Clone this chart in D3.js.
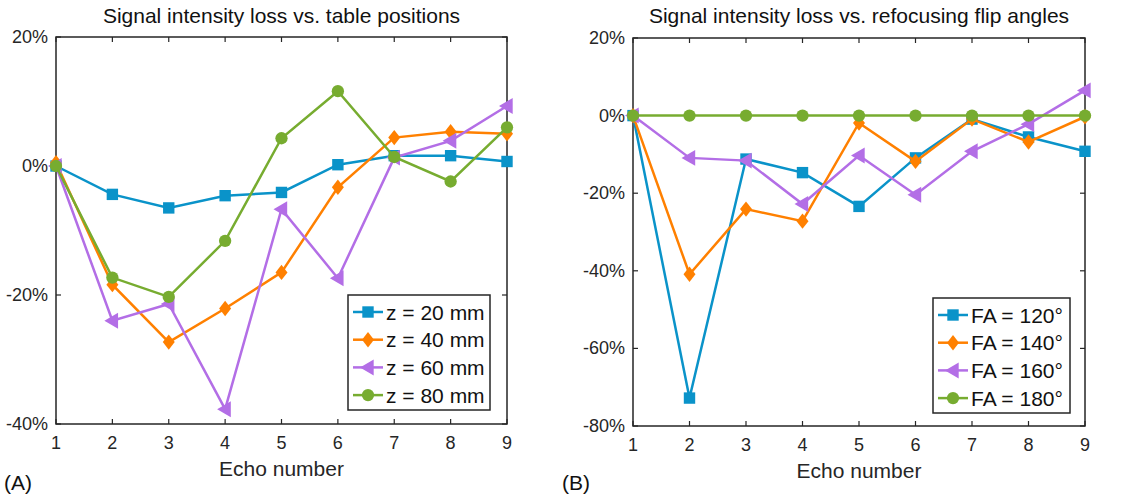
<!DOCTYPE html>
<html>
<head>
<meta charset="utf-8">
<script src="https://cdn.jsdelivr.net/npm/d3@7"></script>
<style>
  body { margin: 0; background: #fff; }
  svg { font-family: "Liberation Sans", Arial, sans-serif; }
</style>
</head>
<body>
<svg id="chart" width="1138" height="496"></svg>
<script>
// echo numbers shared by both panels
const echoes = [1, 2, 3, 4, 5, 6, 7, 8, 9];

// panel A: table positions (percent)
const tableLabels = ["z = 20 mm", "z = 40 mm", "z = 60 mm", "z = 80 mm"];
const z20 = [0, -4.4, -6.5, -4.6, -4.1, 0.2, 1.6, 1.6, 0.7];
const z40 = [0.5, -18.4, -27.3, -22.1, -16.5, -3.3, 4.4, 5.3, 5.0];
const z60 = [0, -24.0, -21.4, -37.7, -6.7, -17.4, 1.3, 3.9, 9.3];
const z80 = [0, -17.3, -20.3, -11.6, 4.3, 11.6, 1.4, -2.4, 6.0];

// panel B: refocusing flip angles (percent)
const faLabels = ["FA = 120°", "FA = 140°", "FA = 160°", "FA = 180°"];
const fa120 = [0, -72.8, -11.2, -14.7, -23.4, -10.9, -0.9, -5.5, -9.2];
const fa140 = [0, -40.9, -24.1, -27.2, -1.9, -11.8, -0.9, -6.8, -0.3];
const fa160 = [0, -10.9, -11.6, -22.8, -10.3, -20.4, -9.2, -2.2, 6.5];
const fa180 = [0, 0, 0, 0, 0, 0, 0, 0, 0];

const yTicksA = [-40, -20, 0, 20];
const yTicksB = [-80, -60, -40, -20, 0, 20];

const colors = ["#0a93c9", "#ff8000", "#b36ee6", "#77ac30"];
const markers = ["square", "diamond", "triangleLeft", "circle"];

const svg = d3.select("#chart");

function markerPath(type, s) {
  if (type === "square") return `M${-s},${-s}H${s}V${s}H${-s}Z`;
  if (type === "diamond") return `M0,${-s * 1.35}L${s * 1.05},0L0,${s * 1.35}L${-s * 1.05},0Z`;
  if (type === "triangleLeft") return `M${-s * 1.4},0L${s},${-s * 1.4}L${s},${s * 1.4}Z`;
  return d3.arc()({ innerRadius: 0, outerRadius: s * 1.08, startAngle: 0, endAngle: 2 * Math.PI });
}

function drawPanel(cfg) {
  const g = svg.append("g");
  const x = d3.scaleLinear().domain([1, 9]).range([cfg.left, cfg.right]);
  const y = d3.scaleLinear().domain(cfg.yDomain).range([cfg.bottom, cfg.top]);

  // box
  g.append("rect")
    .attr("x", cfg.left).attr("y", cfg.top)
    .attr("width", cfg.right - cfg.left).attr("height", cfg.bottom - cfg.top)
    .attr("fill", "none").attr("stroke", "#262626").attr("stroke-width", 1.5);

  // inward ticks on all sides (matlab box style)
  const tk = 5;
  echoes.forEach(e => {
    g.append("line").attr("x1", x(e)).attr("x2", x(e)).attr("y1", cfg.bottom).attr("y2", cfg.bottom - tk)
      .attr("stroke", "#262626").attr("stroke-width", 1.2);
    g.append("line").attr("x1", x(e)).attr("x2", x(e)).attr("y1", cfg.top).attr("y2", cfg.top + tk)
      .attr("stroke", "#262626").attr("stroke-width", 1.2);
    g.append("text").attr("x", x(e)).attr("y", cfg.bottom + 25)
      .attr("text-anchor", "middle").attr("font-size", 18).attr("fill", "#262626").text(e);
  });
  cfg.yTicks.forEach(v => {
    g.append("line").attr("x1", cfg.left).attr("x2", cfg.left + tk).attr("y1", y(v)).attr("y2", y(v))
      .attr("stroke", "#262626").attr("stroke-width", 1.2);
    g.append("line").attr("x1", cfg.right).attr("x2", cfg.right - tk).attr("y1", y(v)).attr("y2", y(v))
      .attr("stroke", "#262626").attr("stroke-width", 1.2);
    g.append("text").attr("x", cfg.left - 8).attr("y", y(v) + 6)
      .attr("text-anchor", "end").attr("font-size", 18).attr("fill", "#262626").text(v + "%");
  });

  // title and axis label
  g.append("text").attr("x", (cfg.left + cfg.right) / 2).attr("y", 23)
    .attr("text-anchor", "middle").attr("font-size", 21).attr("fill", "#111").text(cfg.title);
  g.append("text").attr("x", (cfg.left + cfg.right) / 2).attr("y", cfg.bottom + 52)
    .attr("text-anchor", "middle").attr("font-size", 21).attr("fill", "#262626").text("Echo number");
  g.append("text").attr("x", cfg.panelX).attr("y", 490)
    .attr("font-size", 21).attr("fill", "#111").text(cfg.panelLabel);

  const line = d3.line().x((d, i) => x(echoes[i])).y(d => y(d));

  cfg.series.forEach((vals, k) => {
    g.append("path").datum(vals).attr("d", line)
      .attr("fill", "none").attr("stroke", colors[k]).attr("stroke-width", 2.5);
    g.selectAll(null).data(vals).join("path")
      .attr("transform", (d, i) => `translate(${x(echoes[i])},${y(d)})`)
      .attr("d", markerPath(markers[k], 5.7))
      .attr("fill", colors[k]);
  });

  // legend
  const lg = g.append("g");
  lg.append("rect").attr("x", cfg.legend.x).attr("y", cfg.legend.y)
    .attr("width", cfg.legend.w).attr("height", cfg.legend.h)
    .attr("fill", "#fff").attr("stroke", "#262626").attr("stroke-width", 1.5);
  cfg.labels.forEach((lab, k) => {
    const ly = cfg.legend.y + 17 + k * 27.7;
    const lx = cfg.legend.x + 5;
    lg.append("line").attr("x1", lx).attr("x2", lx + 30).attr("y1", ly).attr("y2", ly)
      .attr("stroke", colors[k]).attr("stroke-width", 2.5);
    lg.append("path").attr("transform", `translate(${lx + 15},${ly})`)
      .attr("d", markerPath(markers[k], 5.7)).attr("fill", colors[k]);
    lg.append("text").attr("x", lx + 33).attr("y", ly + 7.5)
      .attr("font-size", 21).attr("fill", "#111").text(lab);
  });
}

drawPanel({
  left: 56, right: 507, top: 37, bottom: 424,
  yDomain: [-40, 20], yTicks: yTicksA,
  title: "Signal intensity loss vs. table positions",
  panelLabel: "(A)", panelX: 4,
  series: [z20, z40, z60, z80], labels: tableLabels,
  legend: { x: 348, y: 295, w: 142, h: 115 }
});

drawPanel({
  left: 633, right: 1085, top: 38, bottom: 426,
  yDomain: [-80, 20], yTicks: yTicksB,
  title: "Signal intensity loss vs. refocusing flip angles",
  panelLabel: "(B)", panelX: 562,
  series: [fa120, fa140, fa160, fa180], labels: faLabels,
  legend: { x: 933, y: 298, w: 137, h: 115 }
});
</script>
</body>
</html>
